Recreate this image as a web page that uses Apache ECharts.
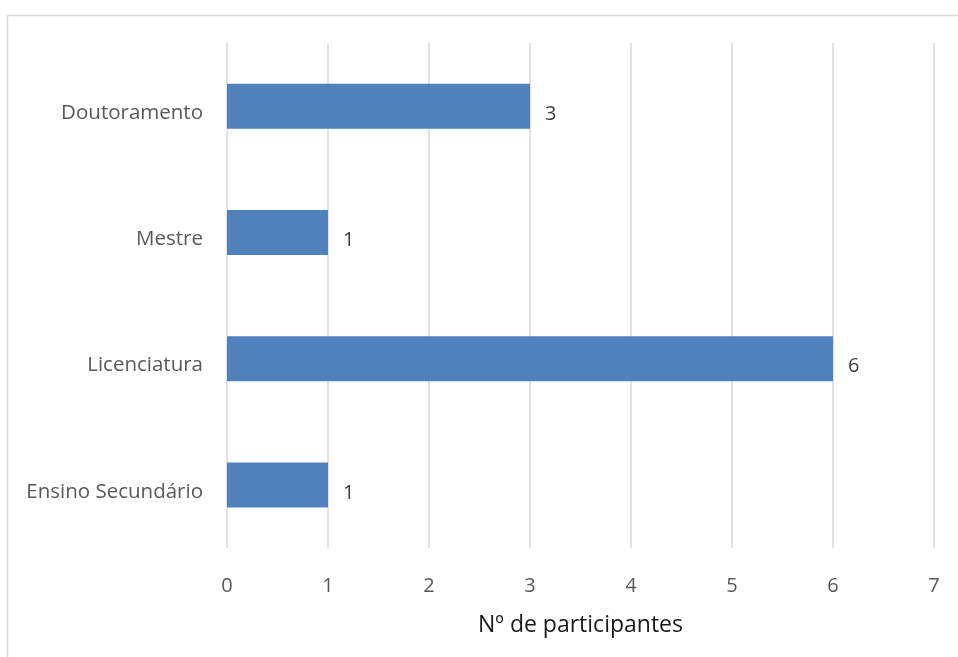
<!DOCTYPE html>
<html>
<head>
<meta charset="utf-8">
<script src="https://cdn.jsdelivr.net/npm/echarts@6/dist/echarts.min.js"></script>
<style>
  html, body { margin: 0; padding: 0; background: #ffffff; }
  #chart { width: 958px; height: 657px; }
</style>
</head>
<body>
<div id="chart"></div>
<script>
// Habilitações dos participantes (de baixo para cima)
const categories = ['Ensino Secundário', 'Licenciatura', 'Mestre', 'Doutoramento'];
const participantes = [1, 6, 1, 3];
const xTicks = [0, 1, 2, 3, 4, 5, 6, 7];
const xAxisTitle = 'Nº de participantes';

const FONT = '"Open Sans", "Noto Sans", sans-serif';

const chart = echarts.init(document.getElementById('chart'), null, { renderer: 'canvas' });

chart.setOption({
  animation: false,
  backgroundColor: '#ffffff',
  graphic: [{
    type: 'rect',
    silent: true,
    shape: { x: 7.5, y: 15.5, width: 1200, height: 1200 },
    style: { fill: 'none', stroke: '#d9d9d9', lineWidth: 1.5 }
  }],
  grid: { left: 227, right: 24, top: 43, bottom: 109, containLabel: false },
  xAxis: {
    type: 'value',
    min: xTicks[0],
    max: xTicks[xTicks.length - 1],
    interval: 1,
    name: xAxisTitle,
    nameLocation: 'middle',
    nameGap: 66,
    nameTextStyle: { fontFamily: FONT, fontSize: 23, color: '#1a1a1a' },
    axisLine: { show: false },
    axisTick: { show: false },
    axisLabel: { fontFamily: FONT, fontSize: 20, color: '#595959', margin: 28 },
    splitLine: { show: true, lineStyle: { color: '#d9d9d9', width: 1.5 } }
  },
  yAxis: {
    type: 'category',
    data: categories,
    axisLine: { show: false },
    axisTick: { show: false },
    axisLabel: {
      fontFamily: FONT, fontSize: 20.5, color: '#595959', margin: 24,
      verticalAlign: 'top', lineHeight: 14
    },
    splitLine: { show: false }
  },
  series: [{
    type: 'bar',
    data: participantes,
    barWidth: 45,
    itemStyle: { color: '#4f81bd' },
    label: {
      show: true,
      position: 'right',
      distance: 15,
      offset: [0, 8],
      fontFamily: FONT,
      fontSize: 20,
      color: '#404040'
    }
  }]
});
</script>
</body>
</html>
